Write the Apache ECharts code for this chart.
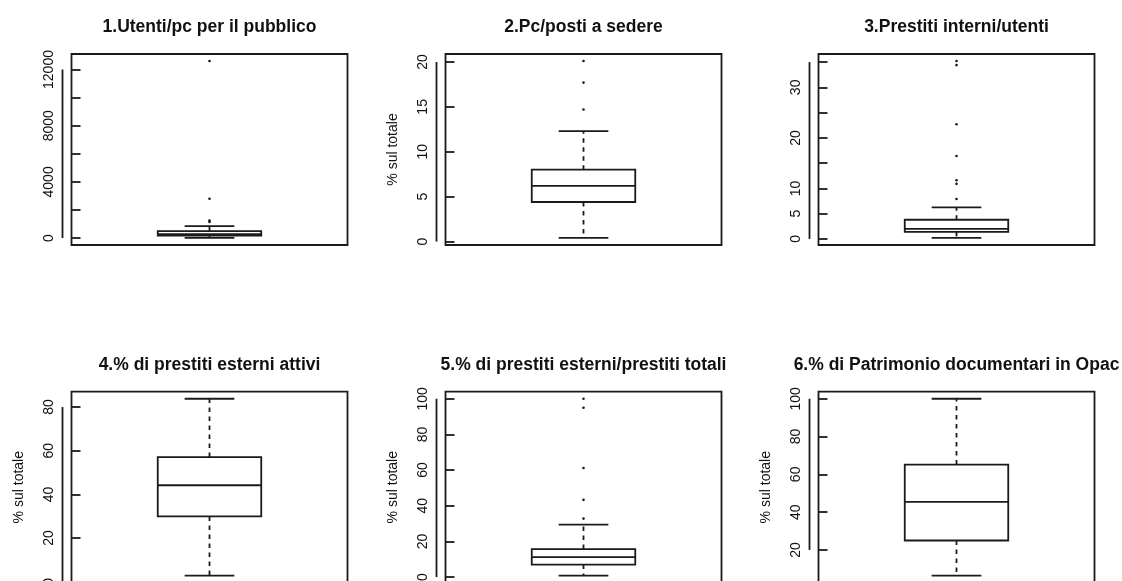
<!DOCTYPE html>
<html>
<head>
<meta charset="utf-8">
<title>Indicatori biblioteche – boxplot</title>
<script src="https://cdn.jsdelivr.net/npm/echarts@6/dist/echarts.min.js"></script>
<style>
  html, body { margin: 0; padding: 0; background: #ffffff; }
  #chart { width: 1122px; height: 581px; }
</style>
</head>
<body>
<div id="chart"></div>
<script>
// Panel titles and y-axis names
const titles = [
  '1.Utenti/pc per il pubblico',
  '2.Pc/posti a sedere',
  '3.Prestiti interni/utenti',
  '4.% di prestiti esterni attivi',
  '5.% di prestiti esterni/prestiti totali',
  '6.% di Patrimonio documentari in Opac'
];
const yNames = ['', '% sul totale', '', '% sul totale', '% sul totale', '% sul totale'];

// Five-number summaries: [lower whisker, Q1, median, Q3, upper whisker]
const stats1 = [10, 170, 285, 500, 855];
const stats2 = [0.4, 4.4, 6.2, 8.0, 12.3];
const stats3 = [0.2, 1.4, 2.0, 3.8, 6.25];
const stats4 = [2.8, 29.9, 44.2, 57.1, 83.8];
const stats5 = [0.8, 7.0, 11.2, 15.7, 29.4];
const stats6 = [6.4, 25.0, 45.4, 65.2, 100];

// Points beyond the whiskers
const outliers1 = [1150, 1250, 2800, 12600];
const outliers2 = [14.7, 17.7, 20.1];
const outliers3 = [7.9, 10.9, 11.6, 16.4, 22.7, 34.4, 35.2];
const outliers4 = [];
const outliers5 = [32.8, 43.3, 61.2, 95.0, 100];
const outliers6 = [];

// Tick marks and the ticks that carry a label
const ticks1 = [0, 2000, 4000, 6000, 8000, 10000, 12000];
const ticks2 = [0, 5, 10, 15, 20];
const ticks3 = [0, 5, 10, 15, 20, 25, 30, 35];
const ticks4 = [0, 20, 40, 60, 80];
const ticks5 = [0, 20, 40, 60, 80, 100];
const ticks6 = [20, 40, 60, 80, 100];
const labels1 = [0, 4000, 8000, 12000];
const labels2 = [0, 5, 10, 15, 20];
const labels3 = [0, 5, 10, 20, 30];
const labels4 = [0, 20, 40, 60, 80];
const labels5 = [0, 20, 40, 60, 80, 100];
const labels6 = [20, 40, 60, 80, 100];

const panels = [
  { stats: stats1, out: outliers1, ticks: ticks1, labels: labels1 },
  { stats: stats2, out: outliers2, ticks: ticks2, labels: labels2 },
  { stats: stats3, out: outliers3, ticks: ticks3, labels: labels3 },
  { stats: stats4, out: outliers4, ticks: ticks4, labels: labels4 },
  { stats: stats5, out: outliers5, ticks: ticks5, labels: labels5 },
  { stats: stats6, out: outliers6, ticks: ticks6, labels: labels6 }
];

const FONT = "'Liberation Sans', Arial, Helvetica, sans-serif";
const INK = '#1a1a1a';
const LINE_W = 1.8;
const AXIS_OFFSET = 9;      // gap between axis line and plot frame
const BOX_HALF = 0.1875;    // half box width, in x units (plot spans 0..1)
const CAP_HALF = 0.09;      // half staple width

const colLeft = [71.5, 445.5, 818.5];
const rowTop = [54, 391.7];
const PLOT_W = 276;
const PLOT_H = 191;

// y range: data extent padded by 4% on each side
function yRange(p) {
  const all = p.stats.concat(p.out);
  const lo = Math.min.apply(null, all);
  const hi = Math.max.apply(null, all);
  const pad = (hi - lo) * 0.04;
  return [lo - pad, hi + pad];
}

function boxRenderer(p) {
  return function (params, api) {
    const cs = params.coordSys;
    const s = p.stats;
    const X = function (u) { return api.coord([u, s[2]])[0]; };
    const Y = function (v) { return api.coord([0.5, v])[1]; };
    const cx = X(0.5);
    const xl = X(0.5 - BOX_HALF), xr = X(0.5 + BOX_HALF);
    const cl = X(0.5 - CAP_HALF), cr = X(0.5 + CAP_HALF);
    const line = { stroke: INK, lineWidth: LINE_W, fill: null };
    const dashed = { stroke: INK, lineWidth: LINE_W, lineDash: [4.5, 4.5], fill: null };
    const kids = [];
    // whiskers
    kids.push({ type: 'line', shape: { x1: cx, y1: Y(s[3]), x2: cx, y2: Y(s[4]) }, style: dashed });
    kids.push({ type: 'line', shape: { x1: cx, y1: Y(s[1]), x2: cx, y2: Y(s[0]) }, style: dashed });
    // staples
    kids.push({ type: 'line', shape: { x1: cl, y1: Y(s[4]), x2: cr, y2: Y(s[4]) }, style: line });
    kids.push({ type: 'line', shape: { x1: cl, y1: Y(s[0]), x2: cr, y2: Y(s[0]) }, style: line });
    // box and median
    kids.push({ type: 'rect', shape: { x: xl, y: Y(s[3]), width: xr - xl, height: Y(s[1]) - Y(s[3]) },
      style: { stroke: INK, lineWidth: LINE_W, fill: '#ffffff' } });
    kids.push({ type: 'line', shape: { x1: xl, y1: Y(s[2]), x2: xr, y2: Y(s[2]) }, style: line });
    // outliers
    p.out.forEach(function (v) {
      kids.push({ type: 'circle', shape: { cx: cx, cy: Y(v), r: 1.3 }, style: { fill: INK } });
    });
    // y axis line, from first to last tick
    const ax = cs.x - AXIS_OFFSET;
    kids.push({ type: 'line', shape: { x1: ax, y1: Y(p.ticks[0]), x2: ax, y2: Y(p.ticks[p.ticks.length - 1]) },
      style: line });
    return { type: 'group', children: kids };
  };
}

const grid = [], xAxis = [], yAxis = [], series = [], title = [];
panels.forEach(function (p, i) {
  const col = i % 3, row = Math.floor(i / 3);
  const range = yRange(p);
  grid.push({
    left: colLeft[col], top: rowTop[row], width: PLOT_W, height: PLOT_H,
    show: true, borderColor: INK, borderWidth: LINE_W, backgroundColor: 'transparent',
    containLabel: false, outerBoundsMode: 'none'
  });
  xAxis.push({
    gridIndex: i, type: 'value', min: 0, max: 1,
    show: false
  });
  yAxis.push({
    gridIndex: i, type: 'value', min: range[0], max: range[1],
    offset: AXIS_OFFSET,
    name: yNames[i], nameLocation: 'middle', nameRotate: 90, nameGap: 36,
    nameTextStyle: { fontFamily: FONT, fontSize: 14, color: '#111' },
    axisLine: { show: false },
    axisTick: { show: true, inside: true, length: 9, customValues: p.ticks,
      lineStyle: { color: INK, width: LINE_W } },
    axisLabel: { show: true, customValues: p.labels, rotate: 90, margin: 6,
      formatter: function (v) { return String(v); },
      fontFamily: FONT, fontSize: 14, color: '#111' },
    splitLine: { show: false }
  });
  series.push({
    type: 'custom', xAxisIndex: i, yAxisIndex: i,
    coordinateSystem: 'cartesian2d', clip: false, silent: true,
    renderItem: boxRenderer(p),
    data: [[0.5, p.stats[2]]]
  });
  title.push({
    text: titles[i],
    left: colLeft[col] + PLOT_W / 2, top: rowTop[row] - 36, textAlign: 'center', padding: 0,
    textStyle: { fontFamily: FONT, fontSize: 17.5, fontWeight: 'bold', color: '#111' }
  });
});

const chart = echarts.init(document.getElementById('chart'), null, { renderer: 'canvas' });
chart.setOption({
  backgroundColor: '#ffffff',
  animation: false,
  title: title,
  grid: grid,
  xAxis: xAxis,
  yAxis: yAxis,
  series: series
});
</script>
</body>
</html>
